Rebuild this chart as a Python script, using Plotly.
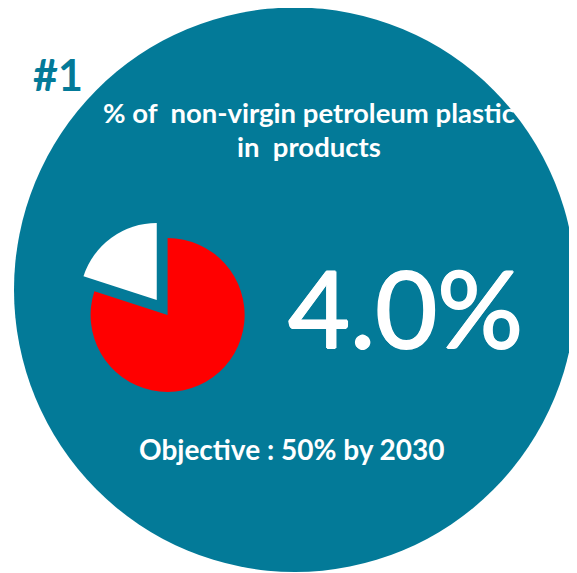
import plotly.graph_objects as go

# Data
slice_labels = ["Virgin", "Non-virgin"]
slice_values = [80, 20]
slice_colors = ["#FF0000", "#FFFFFF"]
slice_pull = [0, 0.24]

rank_label = "#1"
title_lines = ["% of  non-virgin petroleum plastic", "in  products"]
kpi_text = "4.0%"
objective_text = "Objective : 50% by 2030"

# page has an 8px body margin, so the figure is slightly smaller and offset
W, H = 569, 565
TEAL = "#037A98"
OFF = 8


def px(x):
    return (x - OFF) / W


def py(y):
    return 1 - (y - OFF) / H


fig = go.Figure()

fig.add_trace(go.Pie(
    labels=slice_labels,
    values=slice_values,
    marker=dict(colors=slice_colors, line=dict(width=0)),
    pull=slice_pull,
    sort=False,
    direction="clockwise",
    rotation=0,
    textinfo="none",
    hoverinfo="skip",
    showlegend=False,
    domain=dict(x=[px(72.1), px(263.1)], y=[py(410.5), py(219.5)]),
))

fig.add_shape(type="circle", xref="paper", yref="paper",
              x0=px(14), x1=px(576), y0=py(572), y1=py(7.5),
              fillcolor=TEAL, line=dict(width=0), layer="below")

fig.add_annotation(text=rank_label, xref="paper", yref="paper",
                   x=px(31), y=py(74.5), xanchor="left", yanchor="middle",
                   showarrow=False,
                   font=dict(family="Lato", size=43, color=TEAL, weight="bold"))
for line, yc in zip(title_lines, [112.7, 146.0]):
    fig.add_annotation(text=line, xref="paper", yref="paper",
                       x=px(309), y=py(yc), xanchor="center", yanchor="middle",
                       showarrow=False,
                       font=dict(family="Lato", size=27.5, color="white", weight="bold"))
fig.add_annotation(text=kpi_text, xref="paper", yref="paper",
                   x=px(405), y=py(306.5), xanchor="center", yanchor="middle",
                   showarrow=False,
                   font=dict(family="Lato", size=107, color="white", weight="normal",
                             shadow="1px 0 0 #fff, -1px 0 0 #fff, 0 0.8px 0 #fff, 0 -0.8px 0 #fff"))
fig.add_annotation(text=objective_text, xref="paper", yref="paper",
                   x=px(292), y=py(448.9), xanchor="center", yanchor="middle",
                   showarrow=False,
                   font=dict(family="Lato", size=28, color="white", weight="bold"))

fig.update_layout(
    width=W, height=H,
    margin=dict(l=0, r=0, t=0, b=0),
    paper_bgcolor="white",
    plot_bgcolor="white",
    showlegend=False,
)

fig.write_html("out.html", config={"displayModeBar": False})
